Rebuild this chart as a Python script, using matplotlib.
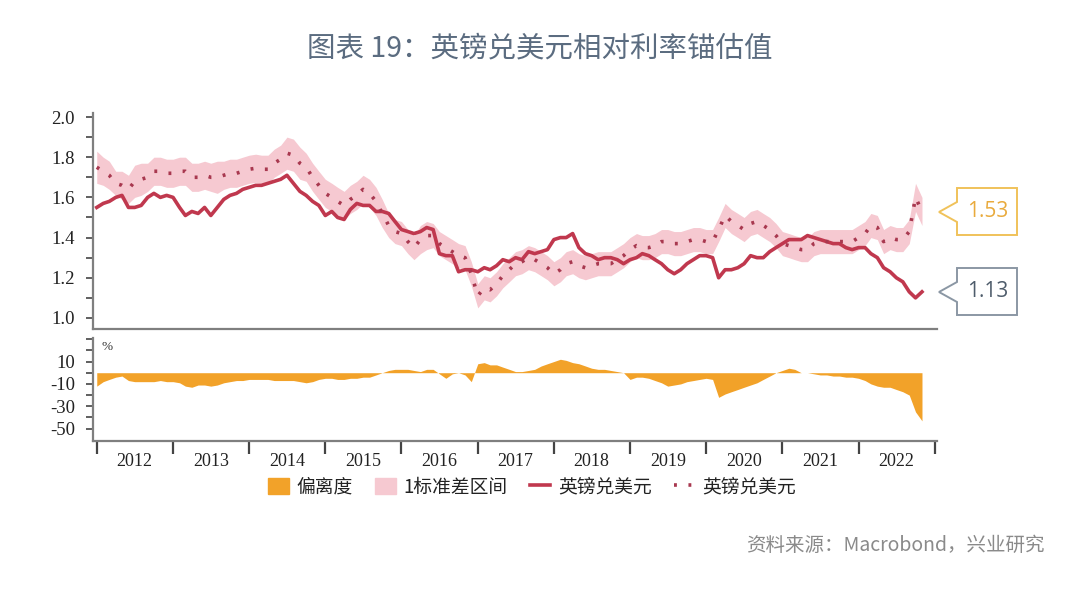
import numpy as np
import pandas as pd
import matplotlib
matplotlib.use("Agg")
import matplotlib.pyplot as plt
from matplotlib.patches import Polygon, Patch
from matplotlib.lines import Line2D

plt.rcParams['font.family'] = ['Liberation Serif', 'Noto Sans CJK SC', 'DejaVu Sans']
CJK = ['Noto Sans CJK SC', 'DejaVu Sans']

# monthly data, Jan 2012 .. Nov 2022
dates = pd.date_range('2012-01-01', periods=131, freq='MS')

gbpusd = [1.55, 1.57, 1.58, 1.60, 1.61, 1.55, 1.55, 1.56, 1.60, 1.62, 1.60, 1.61,
          1.60, 1.55, 1.51, 1.53, 1.52, 1.55, 1.51, 1.55, 1.59, 1.61, 1.62, 1.64,
          1.65, 1.66, 1.66, 1.67, 1.68, 1.69, 1.71, 1.67, 1.63, 1.61, 1.58, 1.56,
          1.51, 1.53, 1.50, 1.49, 1.54, 1.57, 1.56, 1.56, 1.53, 1.53, 1.52, 1.48,
          1.44, 1.43, 1.42, 1.43, 1.45, 1.44, 1.32, 1.31, 1.31, 1.23, 1.24, 1.24,
          1.23, 1.25, 1.24, 1.26, 1.29, 1.28, 1.30, 1.29, 1.33, 1.32, 1.33, 1.34,
          1.39, 1.40, 1.40, 1.42, 1.35, 1.32, 1.31, 1.29, 1.30, 1.30, 1.29, 1.27,
          1.29, 1.30, 1.32, 1.31, 1.29, 1.27, 1.24, 1.22, 1.24, 1.27, 1.29, 1.31,
          1.31, 1.30, 1.20, 1.24, 1.24, 1.25, 1.27, 1.31, 1.30, 1.30, 1.33, 1.35,
          1.37, 1.39, 1.39, 1.39, 1.41, 1.40, 1.39, 1.38, 1.37, 1.37, 1.35, 1.34,
          1.35, 1.35, 1.32, 1.30, 1.25, 1.23, 1.20, 1.18, 1.13, 1.10, 1.13]

fair = [1.75, 1.73, 1.71, 1.67, 1.66, 1.64, 1.68, 1.69, 1.70, 1.73, 1.73, 1.72,
        1.72, 1.73, 1.73, 1.70, 1.70, 1.71, 1.70, 1.70, 1.71, 1.72, 1.72, 1.73,
        1.74, 1.745, 1.74, 1.74, 1.77, 1.79, 1.82, 1.81, 1.77, 1.75, 1.70, 1.66,
        1.62, 1.60, 1.58, 1.56, 1.59, 1.61, 1.64, 1.62, 1.58, 1.52, 1.46, 1.43,
        1.42, 1.38, 1.35, 1.39, 1.41, 1.41, 1.37, 1.35, 1.33, 1.31, 1.30, 1.22,
        1.11, 1.15, 1.14, 1.17, 1.21, 1.24, 1.27, 1.28, 1.30, 1.29, 1.27, 1.25,
        1.22, 1.24, 1.27, 1.28, 1.26, 1.25, 1.26, 1.27, 1.27, 1.27, 1.29, 1.31,
        1.34, 1.36, 1.35, 1.35, 1.36, 1.38, 1.38, 1.37, 1.37, 1.38, 1.39, 1.39,
        1.38, 1.38, 1.44, 1.51, 1.48, 1.46, 1.44, 1.47, 1.48, 1.46, 1.44, 1.41,
        1.37, 1.36, 1.35, 1.34, 1.34, 1.37, 1.38, 1.38, 1.38, 1.38, 1.38, 1.38,
        1.40, 1.42, 1.46, 1.45, 1.38, 1.40, 1.39, 1.39, 1.43, 1.60, 1.53]

std = [0.08, 0.07, 0.07, 0.06, 0.07, 0.07, 0.08, 0.08, 0.07, 0.07, 0.07, 0.07,
       0.07, 0.07, 0.07, 0.07, 0.07, 0.07, 0.07, 0.08, 0.07, 0.07, 0.07, 0.07,
       0.07, 0.07, 0.07, 0.07, 0.07, 0.07, 0.08, 0.08, 0.08, 0.07, 0.07, 0.07,
       0.07, 0.07, 0.07, 0.07, 0.07, 0.07, 0.07, 0.07, 0.07, 0.07, 0.06, 0.06,
       0.06, 0.06, 0.06, 0.07, 0.07, 0.06, 0.06, 0.06, 0.06, 0.06, 0.06, 0.06,
       0.06, 0.06, 0.06, 0.06, 0.06, 0.06, 0.06, 0.06, 0.06, 0.06, 0.06, 0.06,
       0.06, 0.06, 0.06, 0.06, 0.06, 0.06, 0.06, 0.06, 0.06, 0.06, 0.06, 0.06,
       0.06, 0.06, 0.06, 0.06, 0.06, 0.06, 0.06, 0.06, 0.06, 0.06, 0.06, 0.06,
       0.06, 0.06, 0.06, 0.06, 0.06, 0.06, 0.06, 0.06, 0.06, 0.06, 0.06, 0.06,
       0.06, 0.06, 0.06, 0.06, 0.06, 0.06, 0.06, 0.06, 0.06, 0.06, 0.06, 0.06,
       0.06, 0.06, 0.06, 0.06, 0.06, 0.06, 0.06, 0.06, 0.06, 0.07, 0.07]

deviation = [-12, -8, -6, -4, -3, -7, -8, -8, -8, -8, -7, -8,
             -8, -9, -12, -13, -11, -11, -12, -11, -9, -8, -7, -7,
             -6, -6, -6, -6, -7, -7, -7, -7, -8, -9, -8, -6,
             -5, -5, -6, -6, -5, -5, -4, -4, -2, 0, 2, 3,
             3, 3, 2, 1, 3, 3, -1, -5, -1, 0, -2, -8,
             8, 9, 7, 7, 5, 3, 1, 1, 2, 3, 6, 8,
             10, 12, 11, 9, 8, 6, 4, 3, 3, 2, 1, 0,
             -6, -4, -4, -5, -7, -9, -12, -11, -10, -8, -7, -6,
             -5, -6, -22, -19, -17, -15, -13, -11, -9, -6, -3, 0,
             2, 4, 3, 0, 0, -1, -2, -2, -3, -3, -4, -4,
             -5, -7, -10, -12, -13, -13, -15, -17, -20, -35, -43]

years = list(range(2012, 2023))
last_fair = '1.53'
last_spot = '1.13'

red = '#c0384e'
dot_red = '#a8384f'
pink = '#f6c9d1'
orange = '#f2a229'
spine_c = '#7f7f7f'

fig = plt.figure(figsize=(10.8, 6), dpi=100)
ax1 = fig.add_axes([93/1080, 1-329/600, (937-93)/1080, (329-113)/600])
ax2 = fig.add_axes([93/1080, 1-441/600, (937-93)/1080, (441-338)/600])

fair_a = np.array(fair)
std_a = np.array(std)
ax1.fill_between(dates, fair_a - std_a, fair_a + std_a, color=pink, lw=0)
ax1.plot(dates, gbpusd, color=red, lw=2.6)
ax1.plot(dates, fair, color=dot_red, lw=2.6, linestyle=(0, (0.8, 3.2)))

ax2.fill_between(dates, 0, deviation, color=orange, lw=0)

xmin = pd.Timestamp('2011-12-14')
xmax = pd.Timestamp('2023-01-12')
for ax in (ax1, ax2):
    ax.set_xlim(xmin, xmax)
    ax.spines['top'].set_visible(False)
    ax.spines['right'].set_visible(False)
    ax.spines['left'].set_color(spine_c)
    ax.spines['bottom'].set_color(spine_c)
    ax.spines['left'].set_linewidth(1.6)
    ax.spines['bottom'].set_linewidth(1.6)
    ax.tick_params(axis='y', which='both', direction='out', length=5, width=1.2,
                   color='#444444', labelsize=13.5, labelcolor='#222222', pad=8)

ax1.set_ylim(0.945, 2.02)
ax1.set_yticks([1.0, 1.2, 1.4, 1.6, 1.8, 2.0])
ax1.set_yticks(np.arange(1.1, 2.0, 0.2), minor=True)
ax1.set_yticklabels(['1.0', '1.2', '1.4', '1.6', '1.8', '2.0'])
ax1.tick_params(axis='x', which='both', length=0, labelbottom=False)

ax2.set_ylim(-61, 31)
ax2.set_yticks([10, -10, -30, -50])
ax2.set_yticks([30, 20, 0, -20, -40], minor=True)
ax2.set_yticklabels(['10', '-10', '-30', '-50'])
ax2.text(0.01, 0.97, '%', transform=ax2.transAxes, fontsize=9.5, va='top',
         ha='left', color='#333333')

ax2.set_xticks([pd.Timestamp(f'{y}-01-01') for y in years + [2023]])
ax2.set_xticks([pd.Timestamp(f'{y}-07-01') for y in years], minor=True)
ax2.set_xticklabels([], minor=False)
ax2.set_xticklabels([str(y) for y in years], minor=True)
ax2.tick_params(axis='x', which='major', direction='out', length=9, width=1.6,
                color='#444444')
ax2.tick_params(axis='x', which='minor', length=0, labelsize=13,
                labelcolor='#222222', pad=9)

# title and source
fig.text(0.5, 1-48/600, '图表 19：英镑兑美元相对利率锚估值', ha='center', va='center',
         fontsize=20.5, color='#5b6c80', family=CJK)
fig.text(1045/1080, 1-545/600, '资料来源：Macrobond，兴业研究', ha='right',
         va='center', fontsize=14, color='#8a8a8a', family=CJK)


# callout boxes
def callout(ytop, ybot, ytip, text, edge, tcolor):
    xl, xr, xt = 957, 1017, 939
    pts = [(xl, ytop), (xr, ytop), (xr, ybot), (xl, ybot), (xl, ytip + 10),
           (xt, ytip), (xl, ytip - 10)]
    pts = [(x/1080, 1 - y/600) for x, y in pts]
    fig.patches.append(Polygon(pts, closed=True, fill=True, facecolor='white',
                               edgecolor=edge, lw=1.4, transform=fig.transFigure))
    fig.text((xl + xr)/2/1080 + 0.001, 1 - (ytop + ybot)/2/600, text, ha='center',
             va='center', fontsize=15, color=tcolor, family=['Open Sans', 'DejaVu Sans'])


callout(188, 235, 212, last_fair, '#f0c25a', '#e9aa3c')
callout(268, 315, 292, last_spot, '#8b97a4', '#4e5c6b')

# legend
handles = [Patch(color=orange), Patch(color=pink),
           Line2D([], [], color=red, lw=2.6),
           Line2D([], [], color=dot_red, lw=2.6, linestyle=(0, (0.8, 3.2)))]
labels = ['偏离度', '1标准差区间', '英镑兑美元', '英镑兑美元']
fig.legend(handles, labels, loc='center', bbox_to_anchor=(532/1080, 1-487/600),
           ncol=4, frameon=False, prop={'family': CJK, 'size': 13.5},
           handlelength=1.1, handleheight=1.0, handletextpad=0.4,
           columnspacing=1.2, labelcolor='#222222')

fig.savefig('out.png', dpi=100)
